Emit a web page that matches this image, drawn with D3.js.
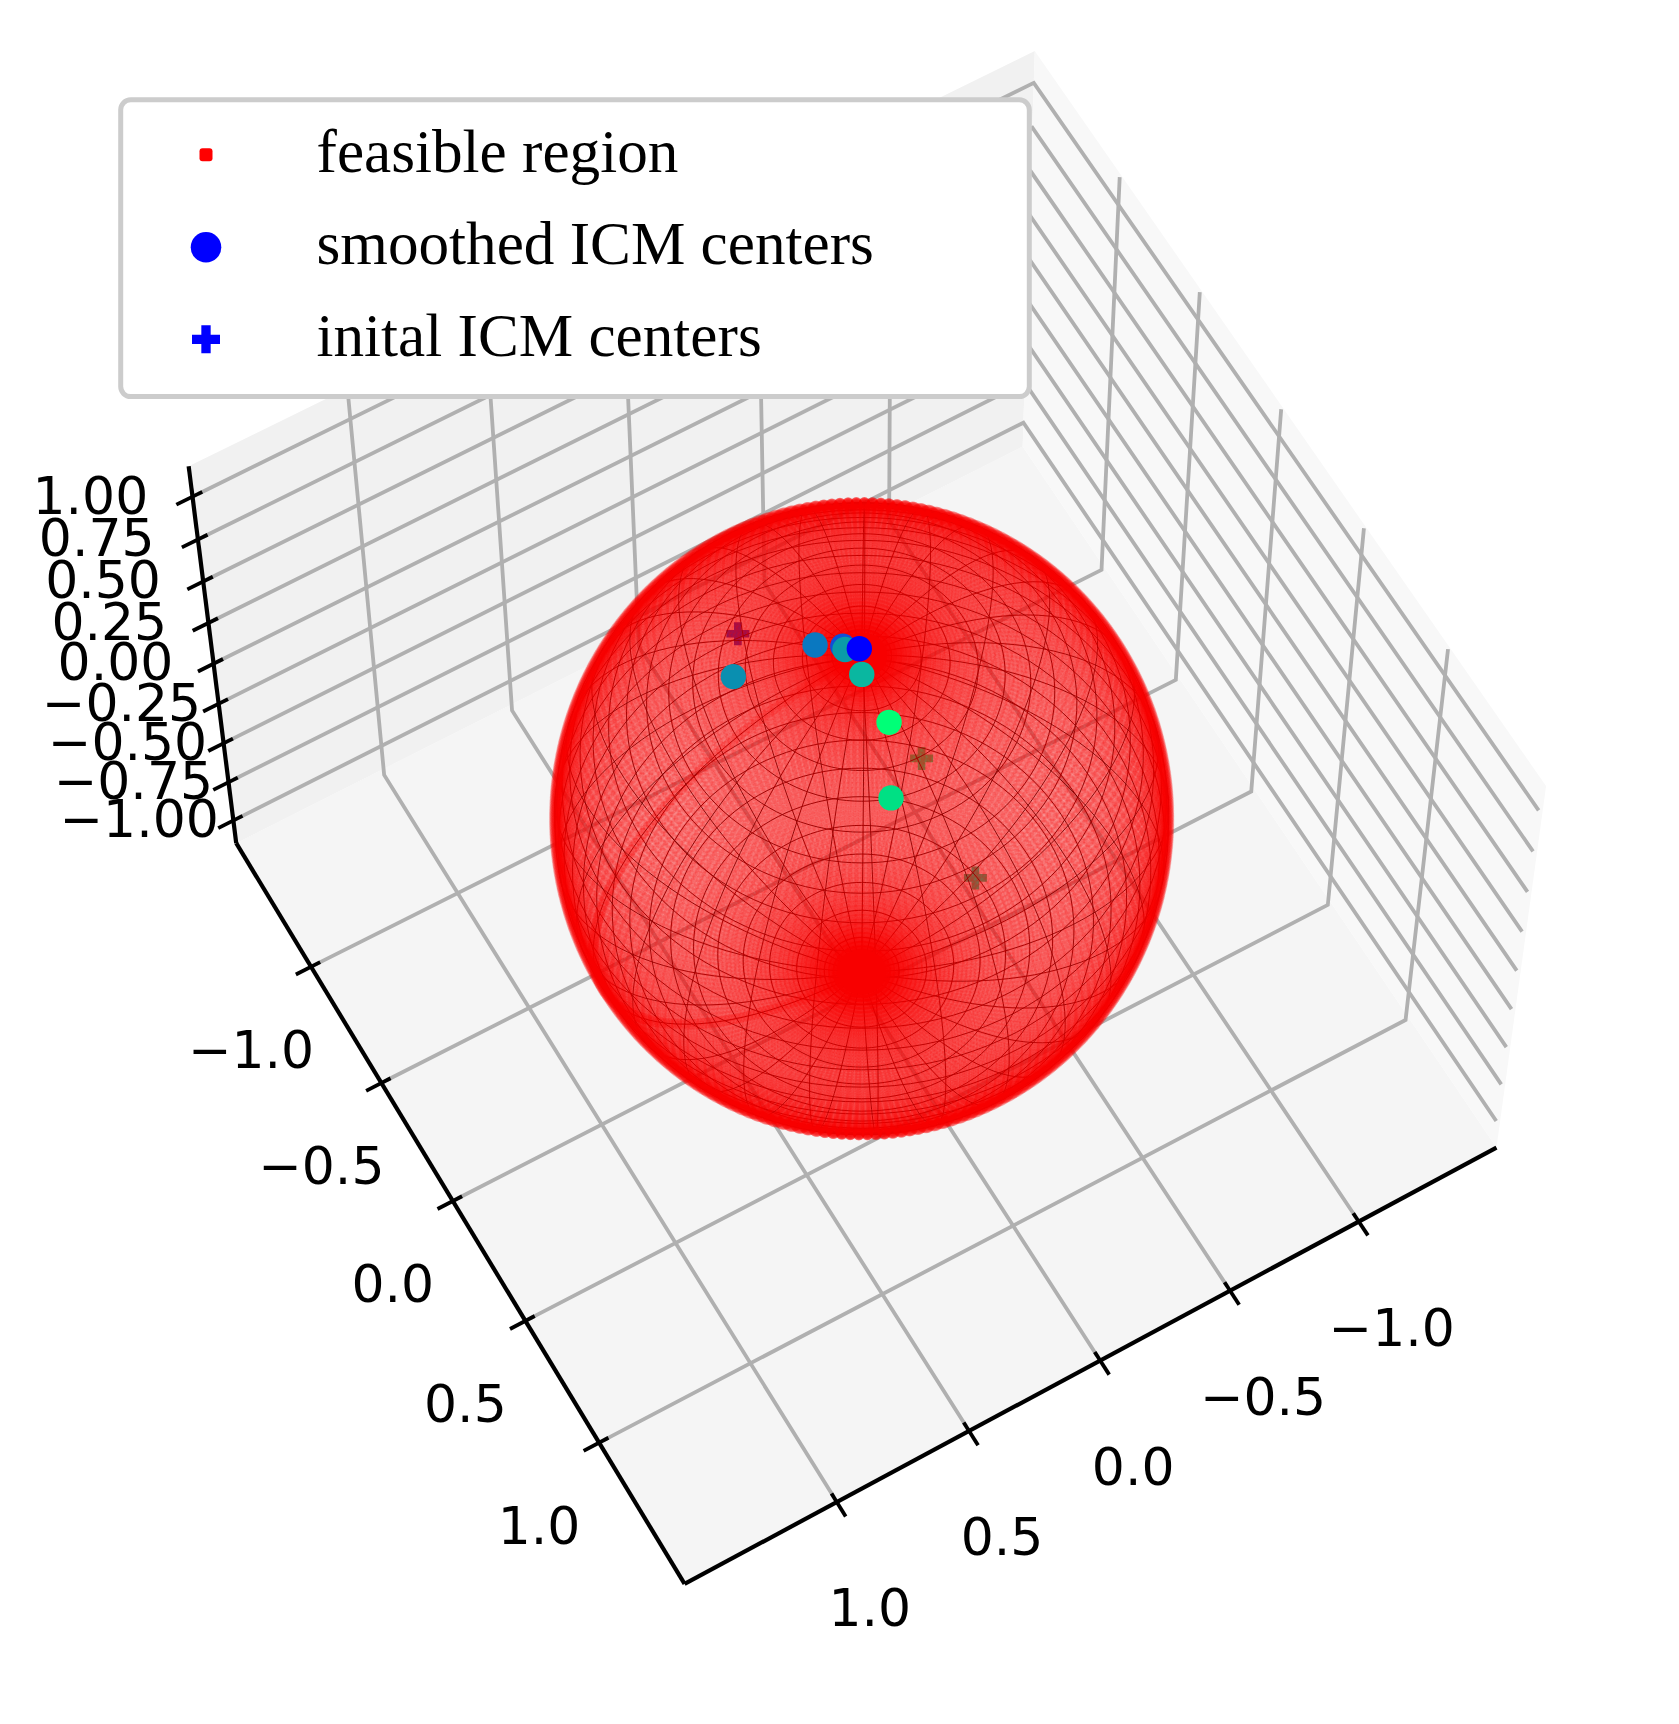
<!DOCTYPE html>
<html>
<head>
<meta charset="utf-8">
<script src="https://cdn.jsdelivr.net/npm/d3@7"></script>
<style>
body{margin:0;background:#fff;}
svg{display:block;}
.tick{font-family:"DejaVu Sans";font-size:52px;fill:#000;text-anchor:middle;}
.leg{font-family:"Liberation Serif";font-size:61.2px;fill:#000;}
</style>
</head>
<body>
<div id="chart"></div>
<script>
// axis ticks
const xTicks=[-1,-0.5,0,0.5,1];
const xTickLabels=["\u22121.0","\u22120.5","0.0","0.5","1.0"];
const yTicks=[-1,-0.5,0,0.5,1];
const yTickLabels=["\u22121.0","\u22120.5","0.0","0.5","1.0"];
const zTicks=[-1,-0.75,-0.5,-0.25,0,0.25,0.5,0.75,1];
const zTickLabels=["\u22121.00","\u22120.75","\u22120.50","\u22120.25","0.00","0.25","0.50","0.75","1.00"];
const xLim=[-1.54,1.57];
const yLim=[-1.54,1.57];
const zLim=[-1.15,1.175];

// smoothed ICM centers
const smoothX=[0.375,0.118,0.047,0.047,0.045,0.047,0.151,0.007];
const smoothY=[-0.161,-0.090,-0.038,-0.024,0.078,0.253,0.445,-0.003];
const smoothZ=[0.913,0.989,0.998,0.999,0.996,0.966,0.883,1.0];
const smoothColors=["#0a8fb0","#0a78c0","#1050d8","#0a9ba8","#0ab7a0","#00ff77","#00e084","#0000ff"];

// inital ICM centers
const initX=[0.287,0.009,0.006];
const initY=[-0.287,0.391,0.725];
const initZ=[0.914,0.920,0.689];
const initColors=["#0033d8","#00f088","#00d694"];

const legendLabels=["feasible region","smoothed ICM centers","inital ICM centers"];

// sphere mesh of the feasible region
const thetaSteps=200, phiSteps=200;
const wireThetaEvery=5.4, wirePhiEvery=12.6; // degrees
const sphereCenterZ=-0.04;

const width=1679, height=1724;
const svg=d3.select("#chart").append("svg").attr("width",width).attr("height",height);

// view_init(60,60), same camera maths as mplot3d
const elev=60*Math.PI/180, azim=60*Math.PI/180, dist=10;
const boxW=1.143, boxD=0.857;
const toBoxX=d3.scaleLinear().domain(xLim).range([0,boxW]);
const toBoxY=d3.scaleLinear().domain(yLim).range([0,boxW]);
const toBoxZ=d3.scaleLinear().domain(zLim).range([0,boxD]);
const w=[Math.cos(elev)*Math.cos(azim),Math.cos(elev)*Math.sin(azim),Math.sin(elev)];
const u=[-Math.sin(azim),Math.cos(azim),0];
const v=[w[1]*u[2]-w[2]*u[1],w[2]*u[0]-w[0]*u[2],w[0]*u[1]-w[1]*u[0]];
const screenX=d3.scaleLinear().domain([-0.1,0.1]).range([860-837,860+837]);
const screenY=d3.scaleLinear().domain([-0.1,0.1]).range([816+860.8,816-860.8]);

function project(x,y,z){
	let d=[toBoxX(x)-boxW/2,toBoxY(y)-boxW/2,toBoxZ(z)-boxD/2];
	let dot=(a)=>a[0]*d[0]+a[1]*d[1]+a[2]*d[2];
	let depth=dist-dot(w);
	return [screenX(dot(u)/depth),screenY(dot(v)/depth)];
}
function spherePoint(t,f){
	return project(Math.sin(t)*Math.cos(f),Math.sin(t)*Math.sin(f),Math.cos(t)+sphereCenterZ);
}
const line=d3.line();

// panes
const xa=xLim[0],xb=xLim[1],ya=yLim[0],yb=yLim[1],za=zLim[0],zb=zLim[1];
let panes=[
	{c:"#f5f5f5",p:[[xb,yb,za],[xb,ya,za],[xa,ya,za],[xa,yb,za]]},
	{c:"#f1f1f1",p:[[xb,ya,za],[xa,ya,za],[xa,ya,zb],[xb,ya,zb]]},
	{c:"#f8f8f8",p:[[xa,yb,za],[xa,ya,za],[xa,ya,zb],[xa,yb,zb]]}
];
svg.append("g").selectAll("path").data(panes).join("path")
	.attr("d",d=>line(d.p.map(q=>project(q[0],q[1],q[2])))+"Z")
	.attr("fill",d=>d.c);

// grid lines
const inset=0.02, floorDrop=0.04;
let gridLines=[];
xTicks.forEach(function(k){ gridLines.push([[k,yb-inset,za],[k,ya,za-floorDrop],[k,ya,zb-inset]]); });
yTicks.forEach(function(k){ gridLines.push([[xb-inset,k,za],[xa,k,za-floorDrop],[xa,k,zb-inset]]); });
zTicks.forEach(function(k){ gridLines.push([[xb-inset,ya,k],[xa,ya,k],[xa,yb-inset,k]]); });
svg.append("g").selectAll("path").data(gridLines).join("path")
	.attr("d",d=>line(d.map(q=>project(q[0],q[1],q[2]))))
	.attr("fill","none").attr("stroke","#b0b0b0").attr("stroke-width",3.8);

// axis edges
let axisEdges=[[[xb,ya,za],[xb,yb,za]],[[xb,yb,za],[xa,yb,za]],[[xb,ya,za],[xb,ya,zb]]];
svg.append("g").selectAll("path").data(axisEdges).join("path")
	.attr("d",d=>line(d.map(q=>project(q[0],q[1],q[2]))))
	.attr("fill","none").attr("stroke","#000").attr("stroke-width",4.2);

// ticks
const tickOut=0.058, tickIn=0.035;
let tickG=svg.append("g").attr("stroke","#000").attr("stroke-width",3.8).attr("fill","none");
let labelG=svg.append("g");
yTicks.forEach(function(k,i){
	tickG.append("path").attr("d",line([project(xb+tickOut,k,za),project(xb-tickIn,k,za)]));
	let p=project(xb,k,za);
	labelG.append("text").attr("class","tick").attr("x",p[0]-60).attr("y",p[1]+82+19).text(yTickLabels[i]);
});
xTicks.forEach(function(k,i){
	tickG.append("path").attr("d",line([project(k,yb+tickOut,za),project(k,yb-tickIn,za)]));
	let p=project(k,yb,za);
	labelG.append("text").attr("class","tick").attr("x",p[0]+33).attr("y",p[1]+105+19).text(xTickLabels[i]);
});
zTicks.forEach(function(k,i){
	tickG.append("path").attr("d",line([project(xb+tickOut,ya,k),project(xb-tickIn,ya,k)]));
	let p=project(xb+tickOut,ya,k);
	labelG.append("text").attr("class","tick").attr("x",p[0]-82.5-3.5*k).attr("y",p[1]+9).text(zTickLabels[i]);
});

// inital centers sit inside the translucent sphere
const plusPath=d3.symbol().type(d3.symbolCross).size(23*23*5/9)();
svg.append("g").selectAll("path").data(initX).join("path")
	.attr("d",plusPath)
	.attr("transform",(d,i)=>{let p=project(initX[i],initY[i],initZ[i]);return "translate("+p[0]+","+p[1]+")";})
	.attr("fill",(d,i)=>initColors[i]);

// wireframe goes below the red marks, they hide it at the poles and the rim
let wires=[];
d3.range(wireThetaEvery,180,wireThetaEvery).forEach(function(deg){
	let t=deg*Math.PI/180;
	wires.push(d3.range(0,361,3).map(a=>spherePoint(t,a*Math.PI/180)));
});
d3.range(0,360,wirePhiEvery).forEach(function(deg){
	let f=deg*Math.PI/180;
	wires.push(d3.range(0,181,3).map(a=>spherePoint(a*Math.PI/180,f)));
});
svg.append("g").selectAll("path").data(wires).join("path")
	.attr("d",d=>line(d)).attr("fill","none")
	.attr("stroke","#000").attr("stroke-opacity",0.9).attr("stroke-width",1);

// feasible region, one mark per mesh node
const thetas=d3.range(thetaSteps+1).map(i=>i*Math.PI/thetaSteps);
const phis=d3.range(phiSteps+1).map(i=>i*2*Math.PI/phiSteps);
let nodes=[];
thetas.forEach(function(t){
	phis.forEach(function(f){
		nodes.push(spherePoint(t,f));
	});
});
svg.append("g").attr("fill","#ff0000").attr("fill-opacity",0.115)
	.selectAll("circle").data(nodes).join("circle")
	.attr("cx",d=>d[0].toFixed(1)).attr("cy",d=>d[1].toFixed(1)).attr("r",5.6);

// smoothed centers on top
svg.append("g").selectAll("circle").data(smoothX).join("circle")
	.attr("cx",(d,i)=>project(smoothX[i],smoothY[i],smoothZ[i])[0])
	.attr("cy",(d,i)=>project(smoothX[i],smoothY[i],smoothZ[i])[1])
	.attr("r",12.7).attr("fill",(d,i)=>smoothColors[i]);

// legend
let leg=svg.append("g");
leg.append("rect").attr("x",120.7).attr("y",99.8).attr("width",908.6).attr("height",296.8)
	.attr("rx",10).attr("fill","#fff").attr("stroke","#cccccc").attr("stroke-width",5);
leg.append("rect").attr("x",199.5).attr("y",148.2).attr("width",13).attr("height",13).attr("rx",3).attr("fill","#ff0000");
leg.append("circle").attr("cx",206).attr("cy",247.3).attr("r",15.3).attr("fill","#0000ff");
leg.append("path").attr("d",d3.symbol().type(d3.symbolCross).size(28*28*5/9)()).attr("transform","translate(206,339.3)").attr("fill","#0000ff");
leg.selectAll("text").data(legendLabels).join("text").attr("class","leg")
	.attr("x",316.5).attr("y",(d,i)=>[171.7,264,356][i]).text(d=>d);
</script>
</body>
</html>
